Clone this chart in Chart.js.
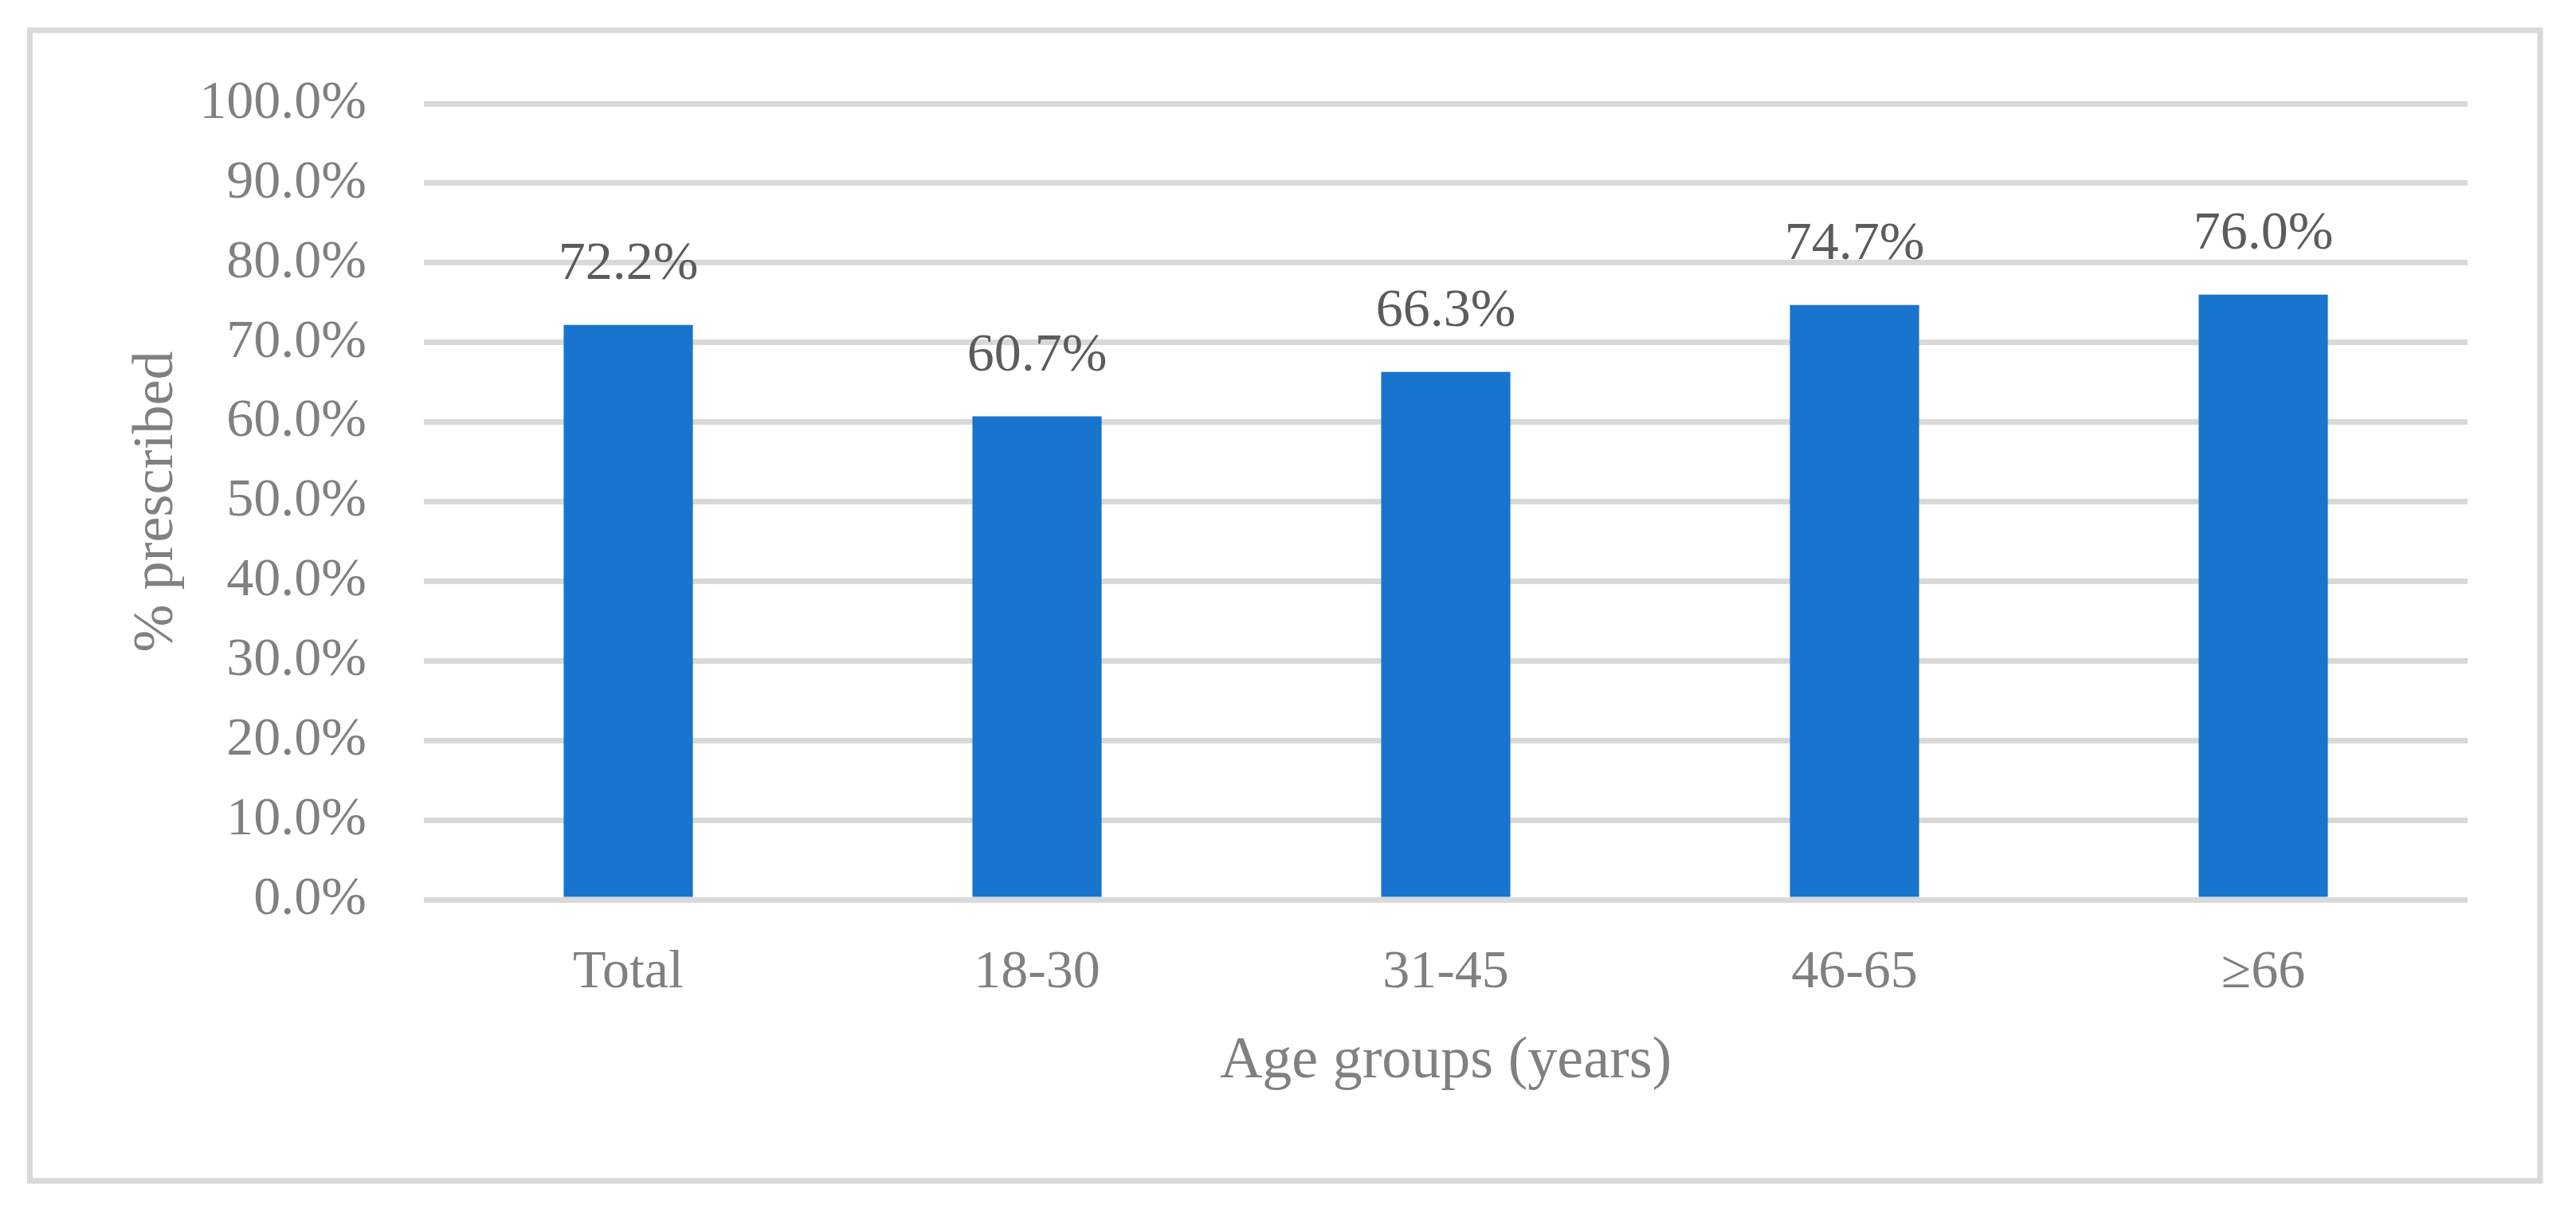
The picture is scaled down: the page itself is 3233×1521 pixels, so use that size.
<!DOCTYPE html>
<html>
<head>
<meta charset="utf-8">
<script src="https://cdn.jsdelivr.net/npm/chart.js@4.4.1/dist/chart.umd.min.js"></script>
<style>
  html, body { margin: 0; padding: 0; background: #ffffff; }
  #c { display: block; }
</style>
</head>
<body>
<canvas id="c" width="3233" height="1521" style="width:3233px;height:1521px"></canvas>
<script>
// ---- data ----
const categories = ['Total', '18-30', '31-45', '46-65', '\u226566'];
const prescribedPct = [72.2, 60.7, 66.3, 74.7, 76.0];
const yTickMin = 0;
const yTickMax = 100;
const yTickStep = 10;
const xTitle = 'Age groups (years)';
const yTitle = '% prescribed';

const FONT = "'Liberation Serif', 'Times New Roman', serif";

const framePlugin = {
  id: 'frame',
  beforeDraw(chart) {
    const ctx = chart.ctx;
    ctx.save();
    ctx.fillStyle = '#ffffff';
    ctx.fillRect(0, 0, chart.width, chart.height);
    ctx.strokeStyle = '#d9d9d9';
    ctx.lineWidth = 7;
    ctx.strokeRect(37.5, 38, 3188 - 37.5, 1482 - 38);
    ctx.restore();
  }
};

const valueLabelPlugin = {
  id: 'valueLabels',
  afterDatasetsDraw(chart) {
    const ctx = chart.ctx;
    const meta = chart.getDatasetMeta(0);
    ctx.save();
    ctx.font = "68px " + FONT;
    ctx.fillStyle = '#5c5c5c';
    ctx.textAlign = 'center';
    ctx.textBaseline = 'alphabetic';
    meta.data.forEach((bar, i) => {
      const v = chart.data.datasets[0].data[i];
      ctx.fillText(v.toFixed(1) + '%', bar.x, bar.y - 58);
    });
    ctx.restore();
  }
};

new Chart(document.getElementById('c'), {
  type: 'bar',
  data: {
    labels: categories,
    datasets: [{
      data: prescribedPct,
      backgroundColor: '#1874cd',
      borderWidth: 0,
      barPercentage: 0.316,
      categoryPercentage: 1.0
    }]
  },
  options: {
    responsive: false,
    devicePixelRatio: 1,
    animation: false,
    layout: { padding: { left: 0, right: 136, top: 130, bottom: 0 } },
    plugins: {
      legend: { display: false },
      tooltip: { enabled: false },
      title: { display: false }
    },
    scales: {
      x: {
        grid: { display: false, drawTicks: false },
        border: { display: false },
        ticks: {
          color: '#808080',
          font: { family: FONT, size: 68 },
          padding: 51,
          maxRotation: 0,
          autoSkip: false
        },
        title: {
          display: true,
          text: xTitle,
          color: '#808080',
          font: { family: FONT, size: 74 },
          padding: { top: 0, bottom: 144 }
        },
        afterFit(scale) { scale.height = 392; }
      },
      y: {
        min: yTickMin,
        max: yTickMax,
        grid: { color: '#d9d9d9', lineWidth: 7, drawTicks: false },
        border: { display: false },
        ticks: {
          stepSize: yTickStep,
          color: '#808080',
          font: { family: FONT, size: 68 },
          padding: 72,
          callback: (v) => Number(v).toFixed(1) + '%'
        },
        title: {
          display: true,
          text: yTitle,
          color: '#808080',
          font: { family: FONT, size: 72 },
          padding: { top: 154, bottom: 0 }
        },
        afterFit(scale) { scale.width = 532; }
      }
    }
  },
  plugins: [framePlugin, valueLabelPlugin]
});
</script>
</body>
</html>
